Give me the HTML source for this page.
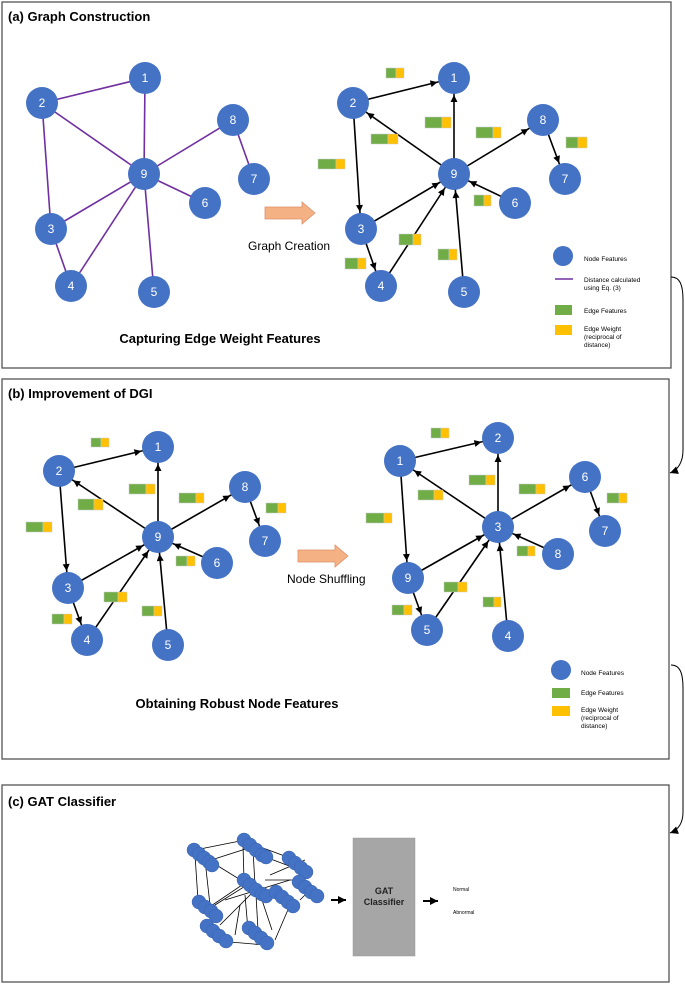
<!DOCTYPE html>
<html><head><meta charset="utf-8"><style>
body{margin:0;background:#fff}
svg text{font-family:"Liberation Sans",sans-serif}
</style></head><body>
<svg width="685" height="984" viewBox="0 0 685 984" xmlns="http://www.w3.org/2000/svg">
<defs>
<marker id="ah" markerUnits="userSpaceOnUse" viewBox="-10 -5 40 10" refX="17" refY="0" markerWidth="40" markerHeight="10" orient="auto" overflow="visible">
<path d="M0,0 L-7,-3.5 L-7,3.5 Z" fill="#000"/></marker>
<marker id="ah2" markerUnits="userSpaceOnUse" viewBox="-10 -5 20 10" refX="0" refY="0" markerWidth="20" markerHeight="10" orient="auto" overflow="visible">
<path d="M0,0 L-8,-4 L-8,4 Z" fill="#000"/></marker>
<g id="ew"><rect x="0" y="0" width="1" height="1"/></g>
</defs>
<g fill="none" stroke="#555" stroke-width="1.3">
<rect x="2" y="2" width="669" height="366"/>
<rect x="2" y="379" width="667" height="380"/>
<rect x="2" y="785" width="667" height="197"/>
</g>
<g fill="none" stroke="#000" stroke-width="1">
<path d="M671,277 C680,277 683,285 683,300 L683,450 C683,462 678,470 670,473" marker-end="url(#ah2)"/>
<path d="M671,665 C680,665 683,673 683,688 L683,812 C683,824 678,830 670,833" marker-end="url(#ah2)"/>
</g>
<text x="8" y="21" font-size="13" font-weight="bold">(a) Graph Construction</text>
<text x="8" y="398" font-size="13" font-weight="bold">(b) Improvement of DGI</text>
<text x="8" y="806" font-size="13" font-weight="bold">(c) GAT Classifier</text>

<!-- (a) left graph -->
<g stroke="#7030a0" stroke-width="1.6">
<line x1="145" y1="78" x2="42" y2="103"/><line x1="145" y1="78" x2="144" y2="174"/>
<line x1="42" y1="103" x2="144" y2="174"/><line x1="42" y1="103" x2="51" y2="229"/>
<line x1="51" y1="229" x2="144" y2="174"/><line x1="51" y1="229" x2="71" y2="286"/>
<line x1="71" y1="286" x2="144" y2="174"/><line x1="154" y1="292" x2="144" y2="174"/>
<line x1="205" y1="203" x2="144" y2="174"/><line x1="233" y1="120" x2="144" y2="174"/>
<line x1="233" y1="120" x2="254" y2="179"/>
</g>
<g fill="#4472c4"><circle cx="145" cy="78" r="16"/><circle cx="42" cy="103" r="16"/><circle cx="51" cy="229" r="16"/><circle cx="71" cy="286" r="16"/><circle cx="154" cy="292" r="16"/><circle cx="205" cy="203" r="16"/><circle cx="254" cy="179" r="16"/><circle cx="233" cy="120" r="16"/><circle cx="144" cy="174" r="16"/></g>
<g fill="#fff" font-size="12" text-anchor="middle"><text x="145" y="82">1</text><text x="42" y="107">2</text><text x="51" y="233">3</text><text x="71" y="290">4</text><text x="154" y="296">5</text><text x="205" y="207">6</text><text x="254" y="183">7</text><text x="233" y="124">8</text><text x="144" y="178">9</text></g>

<!-- arrow a -->
<path d="M265,207 L302,207 L302,202 L315,213 L302,224 L302,219 L265,219 Z" fill="#f4b183" stroke="#e0906a" stroke-width="0.8"/>
<text x="248" y="250" font-size="12">Graph Creation</text>

<!-- (a) right graph -->
<g stroke="#000" stroke-width="1.6" marker-end="url(#ah)">
<line x1="353" y1="103" x2="454" y2="78"/><line x1="454" y1="174" x2="454" y2="78"/>
<line x1="454" y1="174" x2="353" y2="103"/><line x1="353" y1="103" x2="361" y2="229"/>
<line x1="361" y1="229" x2="454" y2="174"/><line x1="361" y1="229" x2="381" y2="286"/>
<line x1="381" y1="286" x2="454" y2="174"/><line x1="464" y1="292" x2="454" y2="174"/>
<line x1="515" y1="203" x2="454" y2="174"/><line x1="454" y1="174" x2="543" y2="120"/>
<line x1="543" y1="120" x2="565" y2="179"/>
</g>
<g fill="#4472c4"><circle cx="454" cy="78" r="16"/><circle cx="353" cy="103" r="16"/><circle cx="361" cy="229" r="16"/><circle cx="381" cy="286" r="16"/><circle cx="464" cy="292" r="16"/><circle cx="515" cy="203" r="16"/><circle cx="565" cy="179" r="16"/><circle cx="543" cy="120" r="16"/><circle cx="454" cy="174" r="16"/></g>
<g fill="#fff" font-size="12" text-anchor="middle"><text x="454" y="82">1</text><text x="353" y="107">2</text><text x="361" y="233">3</text><text x="381" y="290">4</text><text x="464" y="296">5</text><text x="515" y="207">6</text><text x="565" y="183">7</text><text x="543" y="124">8</text><text x="454" y="178">9</text></g>
<!-- edge rects a -->
<g stroke="#c9c9c9" stroke-width="0.5">
<rect x="386" y="68" width="10" height="10" fill="#70ad47"/><rect x="396" y="68" width="8" height="10" fill="#ffc000"/>
<rect x="425" y="117" width="17" height="11" fill="#70ad47"/><rect x="442" y="117" width="9" height="11" fill="#ffc000"/>
<rect x="371" y="134" width="17" height="10" fill="#70ad47"/><rect x="388" y="134" width="10" height="10" fill="#ffc000"/>
<rect x="318" y="159" width="18" height="10" fill="#70ad47"/><rect x="336" y="159" width="9" height="10" fill="#ffc000"/>
<rect x="476" y="127" width="17" height="11" fill="#70ad47"/><rect x="493" y="127" width="8" height="11" fill="#ffc000"/>
<rect x="566" y="137" width="12" height="11" fill="#70ad47"/><rect x="578" y="137" width="9" height="11" fill="#ffc000"/>
<rect x="474" y="195" width="10" height="11" fill="#70ad47"/><rect x="484" y="195" width="7" height="11" fill="#ffc000"/>
<rect x="399" y="234" width="14" height="11" fill="#70ad47"/><rect x="413" y="234" width="8" height="11" fill="#ffc000"/>
<rect x="345" y="258" width="13" height="11" fill="#70ad47"/><rect x="358" y="258" width="8" height="11" fill="#ffc000"/>
<rect x="438" y="249" width="11" height="11" fill="#70ad47"/><rect x="449" y="249" width="8" height="11" fill="#ffc000"/>
</g>
<!-- legend a -->
<circle cx="563" cy="256" r="10" fill="#4472c4"/>
<line x1="555" y1="279" x2="573" y2="279" stroke="#7030a0" stroke-width="1.6"/>
<rect x="555" y="305" width="17" height="10" fill="#70ad47"/>
<rect x="555" y="325" width="17" height="10" fill="#ffc000"/>
<g font-size="6.5"><text x="584" y="261">Node Features</text><text x="584" y="282">Distance calculated</text><text x="584" y="290">using Eq. (3)</text><text x="584" y="313">Edge Features</text><text x="584" y="331">Edge Weight</text><text x="584" y="339">(reciprocal of</text><text x="584" y="347">distance)</text></g>
<text x="220" y="343" font-size="13" font-weight="bold" text-anchor="middle">Capturing Edge Weight Features</text>

<!-- (b) left -->
<g stroke="#000" stroke-width="1.6" marker-end="url(#ah)">
<line x1="59" y1="471" x2="158" y2="447"/><line x1="158" y1="537" x2="158" y2="447"/>
<line x1="158" y1="537" x2="59" y2="471"/><line x1="59" y1="471" x2="68" y2="588"/>
<line x1="68" y1="588" x2="158" y2="537"/><line x1="68" y1="588" x2="87" y2="640"/>
<line x1="87" y1="640" x2="158" y2="537"/><line x1="168" y1="645" x2="158" y2="537"/>
<line x1="217" y1="563" x2="158" y2="537"/><line x1="158" y1="537" x2="245" y2="487"/>
<line x1="245" y1="487" x2="265" y2="541"/>
</g>
<g fill="#4472c4"><circle cx="158" cy="447" r="16"/><circle cx="59" cy="471" r="16"/><circle cx="68" cy="588" r="16"/><circle cx="87" cy="640" r="16"/><circle cx="168" cy="645" r="16"/><circle cx="217" cy="563" r="16"/><circle cx="265" cy="541" r="16"/><circle cx="245" cy="487" r="16"/><circle cx="158" cy="537" r="16"/></g>
<g fill="#fff" font-size="12" text-anchor="middle"><text x="158" y="451">1</text><text x="59" y="475">2</text><text x="68" y="592">3</text><text x="87" y="644">4</text><text x="168" y="649">5</text><text x="217" y="567">6</text><text x="265" y="545">7</text><text x="245" y="491">8</text><text x="158" y="541">9</text></g>
<g stroke="#c9c9c9" stroke-width="0.5">
<rect x="91" y="438" width="10" height="9" fill="#70ad47"/><rect x="101" y="438" width="8" height="9" fill="#ffc000"/>
<rect x="129" y="484" width="17" height="10" fill="#70ad47"/><rect x="146" y="484" width="9" height="10" fill="#ffc000"/>
<rect x="78" y="499" width="16" height="11" fill="#70ad47"/><rect x="94" y="499" width="9" height="11" fill="#ffc000"/>
<rect x="179" y="493" width="17" height="10" fill="#70ad47"/><rect x="196" y="493" width="8" height="10" fill="#ffc000"/>
<rect x="266" y="503" width="12" height="10" fill="#70ad47"/><rect x="278" y="503" width="8" height="10" fill="#ffc000"/>
<rect x="26" y="522" width="17" height="10" fill="#70ad47"/><rect x="43" y="522" width="9" height="10" fill="#ffc000"/>
<rect x="176" y="556" width="11" height="10" fill="#70ad47"/><rect x="187" y="556" width="8" height="10" fill="#ffc000"/>
<rect x="104" y="592" width="14" height="10" fill="#70ad47"/><rect x="118" y="592" width="9" height="10" fill="#ffc000"/>
<rect x="142" y="606" width="12" height="10" fill="#70ad47"/><rect x="154" y="606" width="8" height="10" fill="#ffc000"/>
<rect x="52" y="614" width="12" height="10" fill="#70ad47"/><rect x="64" y="614" width="8" height="10" fill="#ffc000"/>
</g>
<path d="M298,550 L335,550 L335,545 L348,556 L335,567 L335,562 L298,562 Z" fill="#f4b183" stroke="#e0906a" stroke-width="0.8"/>
<text x="287" y="583" font-size="12">Node Shuffling</text>

<!-- (b) right -->
<g stroke="#000" stroke-width="1.6" marker-end="url(#ah)">
<line x1="400" y1="461" x2="498" y2="438"/><line x1="498" y1="527" x2="498" y2="438"/>
<line x1="498" y1="527" x2="400" y2="461"/><line x1="400" y1="461" x2="408" y2="578"/>
<line x1="408" y1="578" x2="498" y2="527"/><line x1="408" y1="578" x2="427" y2="630"/>
<line x1="427" y1="630" x2="498" y2="527"/><line x1="508" y1="636" x2="498" y2="527"/>
<line x1="558" y1="554" x2="498" y2="527"/><line x1="498" y1="527" x2="585" y2="477"/>
<line x1="585" y1="477" x2="605" y2="531"/>
</g>
<g fill="#4472c4"><circle cx="498" cy="438" r="16"/><circle cx="400" cy="461" r="16"/><circle cx="408" cy="578" r="16"/><circle cx="427" cy="630" r="16"/><circle cx="508" cy="636" r="16"/><circle cx="558" cy="554" r="16"/><circle cx="605" cy="531" r="16"/><circle cx="585" cy="477" r="16"/><circle cx="498" cy="527" r="16"/></g>
<g fill="#fff" font-size="12" text-anchor="middle"><text x="498" y="442">2</text><text x="400" y="465">1</text><text x="408" y="582">9</text><text x="427" y="634">5</text><text x="508" y="640">4</text><text x="558" y="558">8</text><text x="605" y="535">7</text><text x="585" y="481">6</text><text x="498" y="531">3</text></g>
<g stroke="#c9c9c9" stroke-width="0.5">
<rect x="431" y="428" width="10" height="10" fill="#70ad47"/><rect x="441" y="428" width="8" height="10" fill="#ffc000"/>
<rect x="469" y="475" width="17" height="10" fill="#70ad47"/><rect x="486" y="475" width="9" height="10" fill="#ffc000"/>
<rect x="418" y="490" width="16" height="10" fill="#70ad47"/><rect x="434" y="490" width="9" height="10" fill="#ffc000"/>
<rect x="519" y="484" width="17" height="10" fill="#70ad47"/><rect x="536" y="484" width="9" height="10" fill="#ffc000"/>
<rect x="607" y="493" width="12" height="10" fill="#70ad47"/><rect x="619" y="493" width="8" height="10" fill="#ffc000"/>
<rect x="366" y="513" width="18" height="10" fill="#70ad47"/><rect x="384" y="513" width="8" height="10" fill="#ffc000"/>
<rect x="517" y="546" width="11" height="10" fill="#70ad47"/><rect x="528" y="546" width="7" height="10" fill="#ffc000"/>
<rect x="444" y="582" width="14" height="10" fill="#70ad47"/><rect x="458" y="582" width="9" height="10" fill="#ffc000"/>
<rect x="483" y="597" width="11" height="10" fill="#70ad47"/><rect x="494" y="597" width="7" height="10" fill="#ffc000"/>
<rect x="392" y="605" width="12" height="10" fill="#70ad47"/><rect x="404" y="605" width="8" height="10" fill="#ffc000"/>
</g>
<circle cx="561" cy="670" r="10" fill="#4472c4"/>
<rect x="552" y="688" width="18" height="10" fill="#70ad47"/>
<rect x="552" y="706" width="18" height="10" fill="#ffc000"/>
<g font-size="6.5"><text x="581" y="675">Node Features</text><text x="581" y="695">Edge Features</text><text x="581" y="712">Edge Weight</text><text x="581" y="720">(reciprocal of</text><text x="581" y="728">distance)</text></g>
<text x="237" y="708" font-size="13" font-weight="bold" text-anchor="middle">Obtaining Robust Node Features</text>

<!-- (c) -->
<g stroke="#000" stroke-width="0.8" fill="none">
<line x1="195" y1="850" x2="245" y2="840"/><line x1="205" y1="862" x2="258" y2="845"/>
<line x1="255" y1="845" x2="290" y2="858"/><line x1="260" y1="855" x2="300" y2="870"/>
<line x1="195" y1="855" x2="198" y2="900"/><line x1="205" y1="860" x2="210" y2="905"/>
<line x1="243" y1="845" x2="244" y2="880"/><line x1="253" y1="850" x2="255" y2="885"/>
<line x1="218" y1="866" x2="265" y2="895"/><line x1="270" y1="875" x2="305" y2="860"/>
<line x1="265" y1="880" x2="295" y2="880"/><line x1="205" y1="910" x2="245" y2="883"/>
<line x1="215" y1="905" x2="255" y2="880"/><line x1="220" y1="925" x2="255" y2="890"/>
<line x1="245" y1="895" x2="248" y2="930"/><line x1="256" y1="895" x2="258" y2="930"/>
<line x1="230" y1="942" x2="265" y2="945"/><line x1="275" y1="940" x2="290" y2="905"/>
<line x1="300" y1="900" x2="310" y2="890"/><line x1="225" y1="900" x2="290" y2="880"/>
<line x1="240" y1="905" x2="235" y2="935"/><line x1="262" y1="900" x2="272" y2="930"/>
</g>
<g fill="#4472c4" stroke="#3a64b0" stroke-width="0.5">
<circle cx="194" cy="850" r="7"/><circle cx="199" cy="854" r="7"/><circle cx="204" cy="858" r="7"/><circle cx="209" cy="862" r="7"/><circle cx="212" cy="865" r="7"/>
<circle cx="244" cy="840" r="7"/><circle cx="250" cy="845" r="7"/><circle cx="256" cy="850" r="7"/><circle cx="262" cy="855" r="7"/><circle cx="266" cy="857" r="7"/>
<circle cx="289" cy="858" r="7"/><circle cx="295" cy="863" r="7"/><circle cx="301" cy="868" r="7"/><circle cx="306" cy="872" r="7"/>
<circle cx="244" cy="880" r="7"/><circle cx="250" cy="885" r="7"/><circle cx="256" cy="890" r="7"/><circle cx="262" cy="894" r="7"/><circle cx="266" cy="896" r="7"/>
<circle cx="276" cy="892" r="7"/><circle cx="282" cy="897" r="7"/><circle cx="288" cy="902" r="7"/><circle cx="293" cy="906" r="7"/>
<circle cx="299" cy="882" r="7"/><circle cx="305" cy="887" r="7"/><circle cx="311" cy="892" r="7"/><circle cx="317" cy="896" r="7"/>
<circle cx="199" cy="902" r="7"/><circle cx="205" cy="907" r="7"/><circle cx="211" cy="911" r="7"/><circle cx="216" cy="916" r="7"/>
<circle cx="207" cy="926" r="7"/><circle cx="213" cy="931" r="7"/><circle cx="219" cy="936" r="7"/><circle cx="226" cy="941" r="7"/>
<circle cx="249" cy="928" r="7"/><circle cx="255" cy="933" r="7"/><circle cx="261" cy="938" r="7"/><circle cx="267" cy="943" r="7"/>
</g>
<rect x="353" y="838" width="62" height="118" fill="#a6a6a6" stroke="#999" stroke-width="0.5"/>
<text x="384" y="894" font-size="9" font-weight="bold" text-anchor="middle" fill="#222">GAT</text>
<text x="384" y="905" font-size="9" font-weight="bold" text-anchor="middle" fill="#222">Classifier</text>
<g stroke="#000" stroke-width="2" marker-end="url(#ah2)">
<line x1="331" y1="900" x2="346" y2="900"/><line x1="423" y1="901" x2="438" y2="901"/>
</g>
<text x="453" y="891" font-size="5">Normal</text>
<text x="453" y="914" font-size="5">Abnormal</text>
</svg>
</body></html>
